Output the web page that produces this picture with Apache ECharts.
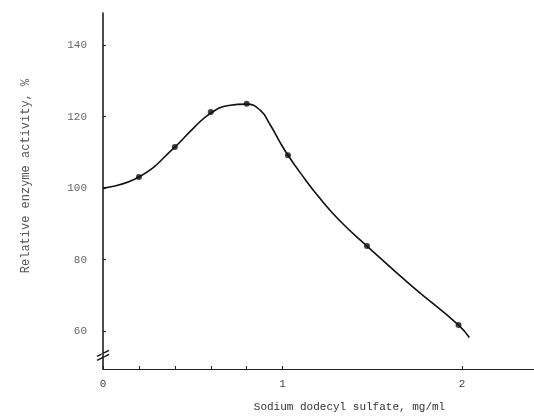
<!DOCTYPE html>
<html><head><meta charset="utf-8">
<script src="https://cdn.jsdelivr.net/npm/echarts@6/dist/echarts.min.js"></script>
<style>html,body{margin:0;padding:0;background:#fff}#c{width:534px;height:419px}</style>
</head><body><div id="c"></div>
<script>
// measured points (SDS mg/ml, relative activity %)
const sdsConc = [0.2, 0.4, 0.6, 0.8, 1.03, 1.47, 1.98];
const activity = [103.1, 111.5, 121.3, 123.6, 109.2, 83.8, 61.7];
// drawn fitted curve
const curveX = [0, 0.2, 0.4, 0.5, 0.6, 0.7, 0.8, 0.875, 0.93, 0.986, 1.03, 1.1, 1.21, 1.32, 1.47, 1.72, 1.98, 2.04];
const curveY = [100, 103.1, 111.5, 116.6, 121.0, 123.1, 123.5, 121.8, 117.8, 112.8, 109.2, 104.2, 97.0, 90.8, 83.8, 72.6, 61.7, 58.2];
const yTicks = [60, 80, 100, 120, 140];
const xTickLabels = [0, 1, 2];
const xTicks = [0, 0.2, 0.4, 0.6, 0.8, 1, 2];

const chart = echarts.init(document.getElementById('c'));
const font = "'Liberation Mono', 'DejaVu Sans Mono', monospace";
chart.setOption({
  animation: false,
  backgroundColor: '#fff',
  grid: {left: 103, right: 0, top: 13, bottom: 50},
  xAxis: {
    type: 'value', min: 0, max: 2.4,
    axisLine: {show: true, lineStyle: {color: '#222', width: 1}},
    splitLine: {show: false},
    axisTick: {show: true, inside: true, length: 3, customValues: xTicks, lineStyle: {color: '#222'}},
    axisLabel: {customValues: xTickLabels, margin: 10, color: '#444', fontFamily: font, fontSize: 11},
    name: 'Sodium dodecyl sulfate, mg/ml', nameLocation: 'middle', nameGap: 33,
    nameTextStyle: {color: '#333', fontFamily: font, fontSize: 11, padding: [0, 0, 0, 62]}
  },
  yAxis: {
    type: 'value', min: 49.4, max: 149,
    axisLine: {show: true, lineStyle: {color: '#111', width: 1.5}},
    splitLine: {show: false},
    axisTick: {show: true, inside: true, length: 3, customValues: yTicks, lineStyle: {color: '#222'}},
    axisLabel: {customValues: yTicks, margin: 16, color: '#666', fontFamily: font, fontSize: 11}
  },
  series: [
    {type: 'line', data: curveX.map((x, i) => [x, curveY[i]]), smooth: 0.5, showSymbol: false,
     lineStyle: {color: '#111', width: 1.6}, z: 2},
    {type: 'scatter', data: sdsConc.map((x, i) => [x, activity[i]]), symbolSize: 6,
     itemStyle: {color: '#111'}, z: 3}
  ]
});
const p = chart.convertToPixel({gridIndex: 0}, [0, 53.5]);
chart.setOption({
  graphic: [
    {type: 'line', shape: {x1: p[0] - 6, y1: p[1] + 2, x2: p[0] + 6, y2: p[1] - 4}, style: {stroke: '#111', lineWidth: 1.3}},
    {type: 'line', shape: {x1: p[0] - 6, y1: p[1] + 6, x2: p[0] + 6, y2: p[1]}, style: {stroke: '#111', lineWidth: 1.3}},
    {type: 'rect', shape: {x: p[0] - 1.5, y: p[1] - 1, width: 3, height: 3}, style: {fill: '#fff'}},
    {type: 'text', x: 26, y: 176, rotation: Math.PI / 2,
     style: {text: 'Relative enzyme activity, %', fontFamily: font, fontSize: 12, fill: '#555',
             align: 'center', verticalAlign: 'middle'}}
  ]
});
</script></body></html>
